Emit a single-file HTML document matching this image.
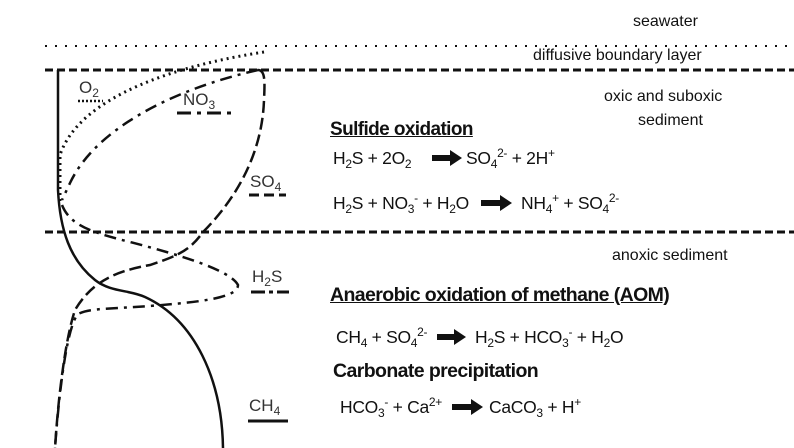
<!DOCTYPE html>
<html><head><meta charset="utf-8"><style>
body{margin:0;width:794px;height:448px;background:#fff;overflow:hidden;position:relative;font-family:"Liberation Sans",sans-serif;color:#111}
.t{position:absolute;white-space:nowrap;font-size:16px;line-height:16px}
.e{font-size:17.5px;letter-spacing:-0.3px}
.b{font-weight:bold;letter-spacing:-0.6px}
.u{text-decoration:underline}
sub{font-size:12px;vertical-align:-4px;line-height:0}
sup{font-size:12px;vertical-align:7px;line-height:0}
.l{font-size:17px;color:#333}
svg{position:absolute;left:0;top:0}
</style></head><body>
<svg width="794" height="448">
<g fill="none" stroke="#111">
<line x1="45" y1="46" x2="794" y2="46" stroke-width="2" stroke-dasharray="2 8"/>
<line x1="45" y1="70" x2="794" y2="70" stroke-width="3" stroke-dasharray="8 4"/>
<line x1="45" y1="232" x2="794" y2="232" stroke-width="3" stroke-dasharray="8 4"/>
<path d="M58 70 L58 190 C60 230 70 260 95 280 C110 292 130 290 145 297 C195 320 222 380 223 448" stroke-width="2.5"/>
<path d="M264 52 C180 65 80 95 60 155 L60 205" stroke-width="3" stroke-dasharray="2 4"/>
<path d="M258 70 C170 90 95 130 70 183 L62 200" stroke-width="2.5" stroke-dasharray="12 6 3 6"/>
<path d="M258 70 C265 70 265 80 264 100 C262 160 230 205 203 232 C190 250 180 255 150 265 C110 272 90 285 75 310 C65 340 58 400 55 448" stroke-width="2.5" stroke-dasharray="12 5"/>
<path d="M62 205 C70 225 90 232 130 242 C180 255 230 270 238 285 C238 298 200 302 150 306 C110 309 90 308 78 314 C68 325 60 380 55 448" stroke-width="2.5" stroke-dasharray="12 6 3 6"/>
<line x1="78" y1="101" x2="103" y2="101" stroke-width="2.5" stroke-dasharray="2 2"/>
<line x1="177" y1="113" x2="232" y2="113" stroke-width="3" stroke-dasharray="14 6 4 6"/>
<line x1="249" y1="195" x2="286" y2="195" stroke-width="3" stroke-dasharray="10 5"/>
<line x1="251" y1="292" x2="289" y2="292" stroke-width="3" stroke-dasharray="14 4 4 4"/>
<line x1="248" y1="421" x2="288" y2="421" stroke-width="3"/>
</g>
<g fill="#111">
<path d="M432 155h18v-5l12 8-12 8v-5h-18z"/>
<path d="M481 200h19v-5l12 8-12 8v-5h-19z"/>
<path d="M437 334h17v-5l12 8-12 8v-5h-17z"/>
<path d="M452 404h19v-5l12 8-12 8v-5h-19z"/>
</g>
</svg>
<div class="t" style="left:633px;top:14px">seawater</div>
<div class="t" style="left:533px;top:48px">diffusive boundary layer</div>
<div class="t" style="left:604px;top:89px">oxic and suboxic</div>
<div class="t" style="left:638px;top:113px">sediment</div>
<div class="t" style="left:612px;top:248px">anoxic sediment</div>
<div class="t l" style="left:79px;top:80px">O<sub>2</sub></div>
<div class="t l" style="left:183px;top:92px">NO<sub>3</sub></div>
<div class="t l" style="left:250px;top:174px">SO<sub>4</sub></div>
<div class="t l" style="left:252px;top:269px">H<sub>2</sub>S</div>
<div class="t l" style="left:249px;top:398px">CH<sub>4</sub></div>
<div class="t b u" style="left:330px;top:122px;font-size:19px">Sulfide oxidation</div>
<div class="t e" style="left:333px;top:150px">H<sub>2</sub>S + 2O<sub>2</sub></div>
<div class="t e" style="left:466px;top:150px">SO<sub>4</sub><sup>2-</sup> + 2H<sup>+</sup></div>
<div class="t e" style="left:333px;top:195px">H<sub>2</sub>S + NO<sub>3</sub><sup>-</sup> + H<sub>2</sub>O</div>
<div class="t e" style="left:521px;top:195px">NH<sub>4</sub><sup>+</sup> + SO<sub>4</sub><sup>2-</sup></div>
<div class="t b u" style="left:330px;top:287px;font-size:19.5px">Anaerobic oxidation of methane (AOM)</div>
<div class="t e" style="left:336px;top:329px">CH<sub>4</sub> + SO<sub>4</sub><sup>2-</sup></div>
<div class="t e" style="left:475px;top:329px">H<sub>2</sub>S + HCO<sub>3</sub><sup>-</sup> + H<sub>2</sub>O</div>
<div class="t b" style="left:333px;top:363px;font-size:19.5px">Carbonate precipitation</div>
<div class="t e" style="left:340px;top:399px">HCO<sub>3</sub><sup>-</sup> + Ca<sup>2+</sup></div>
<div class="t e" style="left:489px;top:399px">CaCO<sub>3</sub> + H<sup>+</sup></div>
</body></html>
